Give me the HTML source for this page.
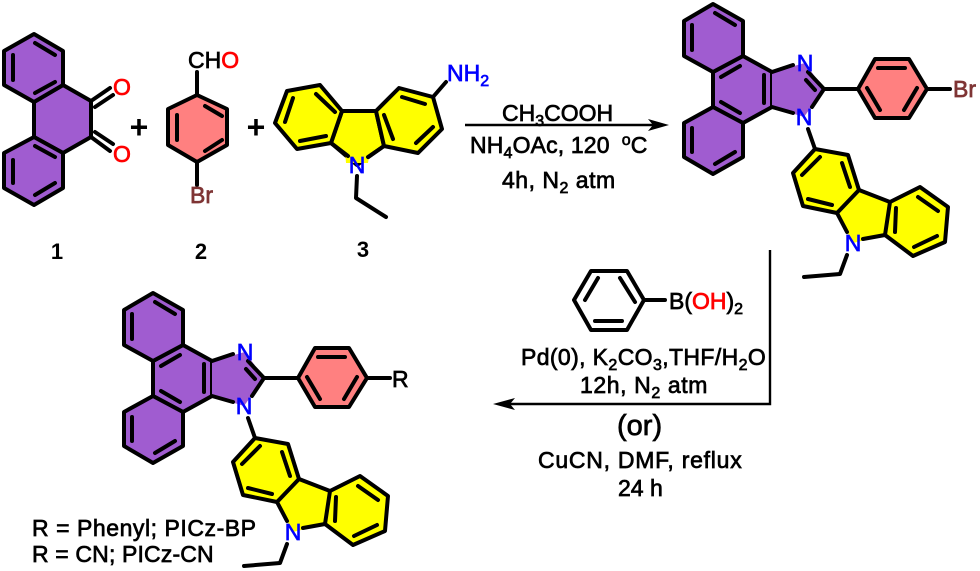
<!DOCTYPE html>
<html><head><meta charset="utf-8"><style>
html,body{margin:0;padding:0;background:#fff;width:980px;height:571px;overflow:hidden}
svg{display:block}
.b{fill:none;stroke:#000;stroke-width:4;stroke-linejoin:round;stroke-linecap:round}
.p{fill:#a05cd0;stroke:#000;stroke-width:4;stroke-linejoin:round}
.k{fill:#ff8080;stroke:#000;stroke-width:4;stroke-linejoin:round}
.y{fill:#ffff00;stroke:#000;stroke-width:4;stroke-linejoin:round}
.l{fill:none;stroke:#000;stroke-width:2.4}
text{font-family:"Liberation Sans",sans-serif;font-size:23px;fill:#000;stroke:#000;stroke-width:.7}
.s{font-size:16px}
.n{fill:#0000ff;stroke:#0000ff}
.o{fill:#ff0000;stroke:#ff0000}
.r{fill:#7f3535;stroke:#7f3535}
.w{font-weight:bold;stroke:none}
</style></head><body>
<svg width="980" height="571" viewBox="0 0 980 571" xmlns="http://www.w3.org/2000/svg">
<!-- compound 1 -->
<path class="p" d="M34 102L63 85L91 101L91 137L63 153L34 137Z"/>
<path class="p" d="M34 34L63 51L63 85L34 102L4 85L4 51Z"/>
<path class="p" d="M34 137L63 153L63 188L34 205L4 188L4 153Z"/>
<path class="b" d="M13 55L13 80M35 43L55 55M35 93L55 82M13 160L13 183M35 195L55 183M35 146L55 157M91 101L110 88M95 107L113 95M91 137L110 151M95 132L113 144"/>
<text class="o" x="113" y="95">O</text>
<text class="o" x="113" y="162">O</text>
<text class="w" x="139" y="138" text-anchor="middle" style="font-size:32px">+</text>
<text class="w" x="57" y="259" text-anchor="middle" style="font-size:22px">1</text>
<!-- compound 2 -->
<path class="k" d="M197 95L227 109L227 145L197 162L168 145L168 109Z"/>
<path class="b" d="M197 95L197 72M197 162L197 185M205 106L222 116M177 115L177 140M205 151L222 140"/>
<text x="188" y="68">CH<tspan class="o">O</tspan></text>
<text class="r" x="190" y="203">Br</text>
<text class="w" x="201" y="259" text-anchor="middle" style="font-size:22px">2</text>
<text class="w" x="256" y="138" text-anchor="middle" style="font-size:32px">+</text>
<!-- compound 3 -->
<path class="y" d="M342 111L376 111L384 146L357 165L331 143Z" stroke-width="4"/>
<path class="y" d="M320 85L287 91L275 123L297 149L331 143L342 111Z"/>
<path class="y" d="M376 111L399 88L433 97L442 129L418 153L384 146Z"/>
<path fill="#ffff00" d="M345 150L370 150L368 163L346 163Z"/>
<path class="b" d="M331 143L348 156M384 146L368 157M316 94L335 112M293 98L285 122M300 141L326 136M384 115L393 139M402 97L425 104M433 127L416 143M433 97L446 82M357 176L356 198L386 217"/>
<text class="n" x="357" y="173" text-anchor="middle">N</text>
<text class="n" x="447" y="81">NH<tspan class="s" dy="5">2</tspan></text>
<text class="w" x="363" y="257" text-anchor="middle" style="font-size:22px">3</text>
<!-- arrow 1 -->
<path class="l" d="M465 125L655 125"/>
<path d="M669 125L648 119L653 125L648 131Z" fill="#000"/>
<text x="502" y="121">CH<tspan class="s" dy="5">3</tspan><tspan dy="-5">COOH</tspan></text>
<text x="470" y="153" style="letter-spacing:.15px">NH<tspan class="s" dy="5">4</tspan><tspan dy="-5">OAc, 120</tspan><tspan class="s" dx="12" dy="-8">o</tspan><tspan dy="8">C</tspan></text>
<text x="502" y="188" style="letter-spacing:.5px">4h, N<tspan class="s" dy="5">2</tspan><tspan dy="-5"> atm</tspan></text>
<!-- product 1 -->
<g>
<path class="p" d="M713 72L743 56L772 72L772 107L743 123L713 107Z"/>
<path class="p" d="M713 4L743 21L743 56L713 72L684 56L684 21Z"/>
<path class="p" d="M713 107L743 123L743 157L713 174L684 157L684 123Z"/>
<path fill="#a05cd0" d="M772 72L805 63L824 89L804 117L772 107Z"/>
<path class="k" d="M858 89L875 59L909 59L927 89L909 118L875 118Z"/>
<path class="y" d="M859 190L890 202L885 235L853 243L837 213Z" style="stroke:none"/>
<path class="y" d="M815 149L848 155L859 190L837 213L803 206L793 173Z"/>
<path class="y" d="M890 202L920 187L948 207L945 242L913 256L885 235Z"/>
<path class="b" d="M692 25L692 50M715 13L735 25M692 128L692 152M715 164L735 152M721 77L740 66M764 75L764 103M721 102L740 113M772 72L793 65M772 107L793 113M808 72L824 89M806 80L815 90M824 89L812 107M824 89L858 89M878 68L905 68M917 88L904 110M880 110L867 88M927 89L950 89M808 129L815 149M820 157L802 175M842 163L850 187M808 199L832 205M859 190L890 202M837 213L847 232M885 235L863 239M896 208L895 232M918 197L938 211M914 247L937 236M847 255L840 274L804 277"/>
<text class="n" x="805" y="71" text-anchor="middle">N</text>
<text class="n" x="804" y="125" text-anchor="middle">N</text>
<text class="n" x="853" y="251" text-anchor="middle">N</text>
</g>
<text class="r" x="953" y="97">Br</text>
<!-- arrow 2 -->
<path class="l" d="M770 250L770 404L505 404"/>
<path d="M493 404L515 398L510 404L515 410Z" fill="#000"/>
<!-- phenylboronic acid -->
<path class="b" d="M644 300L627 271L591 271L574 300L591 330L627 330ZM598 278L585 300M620 278L635 302M595 321L622 321M644 300L665 300"/>
<text x="669" y="309">B(<tspan class="o">OH</tspan>)<tspan class="s" dy="5">2</tspan></text>
<text x="521" y="365" style="letter-spacing:.38px">Pd(0), K<tspan class="s" dy="5">2</tspan><tspan dy="-5">CO</tspan><tspan class="s" dy="5">3</tspan><tspan dy="-5">,THF/H</tspan><tspan class="s" dy="5">2</tspan><tspan dy="-5">O</tspan></text>
<text x="580" y="393" style="letter-spacing:.6px">12h, N<tspan class="s" dy="5">2</tspan><tspan dy="-5"> atm</tspan></text>
<text x="617" y="435" style="font-size:29px">(or)</text>
<text x="538" y="468" style="letter-spacing:.75px">CuCN, DMF, reflux</text>
<text x="618" y="496">24 h</text>
<!-- product 2 -->
<g transform="translate(-560 289)">
<path class="p" d="M713 72L743 56L772 72L772 107L743 123L713 107Z"/>
<path class="p" d="M713 4L743 21L743 56L713 72L684 56L684 21Z"/>
<path class="p" d="M713 107L743 123L743 157L713 174L684 157L684 123Z"/>
<path fill="#a05cd0" d="M772 72L805 63L824 89L804 117L772 107Z"/>
<path class="k" d="M858 89L875 59L909 59L927 89L909 118L875 118Z"/>
<path class="y" d="M859 190L890 202L885 235L853 243L837 213Z" style="stroke:none"/>
<path class="y" d="M815 149L848 155L859 190L837 213L803 206L793 173Z"/>
<path class="y" d="M890 202L920 187L948 207L945 242L913 256L885 235Z"/>
<path class="b" d="M692 25L692 50M715 13L735 25M692 128L692 152M715 164L735 152M721 77L740 66M764 75L764 103M721 102L740 113M772 72L793 65M772 107L793 113M808 72L824 89M806 80L815 90M824 89L812 107M824 89L858 89M878 68L905 68M917 88L904 110M880 110L867 88M927 89L950 89M808 129L815 149M820 157L802 175M842 163L850 187M808 199L832 205M859 190L890 202M837 213L847 232M885 235L863 239M896 208L895 232M918 197L938 211M914 247L937 236M847 255L840 274L804 277"/>
<text class="n" x="805" y="71" text-anchor="middle">N</text>
<text class="n" x="804" y="125" text-anchor="middle">N</text>
<text class="n" x="853" y="251" text-anchor="middle">N</text>
</g>
<text x="392" y="387">R</text>
<text x="32" y="536" style="letter-spacing:.55px">R = Phenyl; PICz-BP</text>
<text x="32" y="562" style="letter-spacing:.15px">R = CN; PICz-CN</text>
</svg>
</body></html>
